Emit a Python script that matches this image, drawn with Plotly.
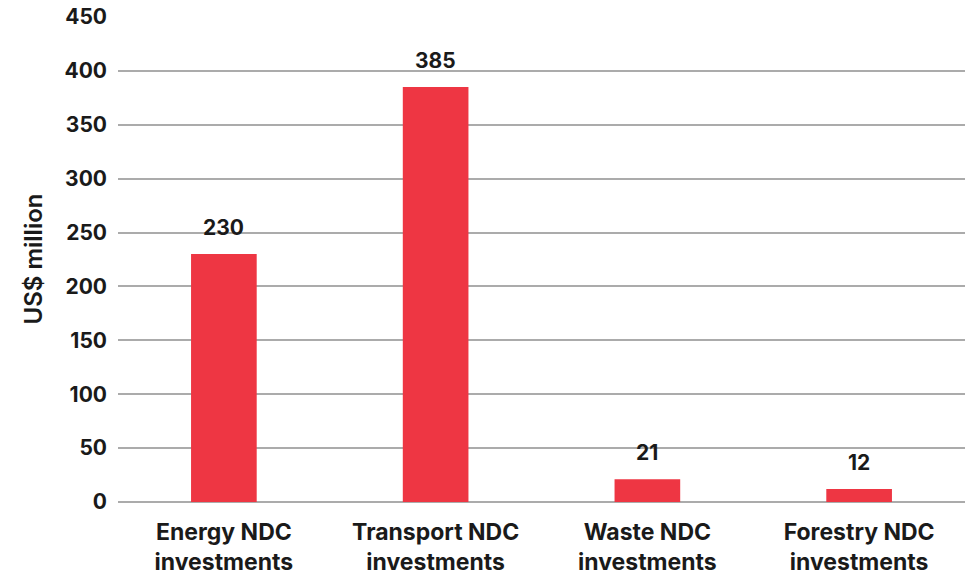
import plotly.graph_objects as go

categories = ["Energy NDC<br>investments", "Transport NDC<br>investments",
              "Waste NDC<br>investments", "Forestry NDC<br>investments"]
values = [230, 385, 21, 12]
y_ticks = [0, 50, 100, 150, 200, 250, 300, 350, 400, 450]

FONT = "Inter, Lato, sans-serif"
TXT = "#1a1a1a"

fig = go.Figure()
fig.add_trace(go.Bar(x=categories, y=values, marker=dict(color="#EE3643", line=dict(width=0)),
                     width=0.31, hoverinfo="skip"))

for c, v in zip(categories, values):
    fig.add_annotation(x=c, y=v, text="<b>%d</b>" % v, showarrow=False,
                       yanchor="bottom", yshift=12,
                       font=dict(family=FONT, size=21, color=TXT))

fig.add_annotation(xref="paper", yref="paper", x=(33 - 118) / 847, y=0.5,
                   text="US$ million", textangle=-90, showarrow=False,
                   xanchor="center", yanchor="middle",
                   font=dict(family=FONT, size=24, color=TXT, weight=600))

fig.update_layout(
    width=965, height=578,
    margin=dict(l=118, r=0, t=17, b=76),
    paper_bgcolor="white", plot_bgcolor="white",
    showlegend=False,
    font=dict(family=FONT, size=20, color=TXT),
    xaxis=dict(showgrid=False, showline=False, ticks="", ticklabelstandoff=14, automargin=False,
               tickfont=dict(family=FONT, size=23, color=TXT, weight="bold")),
    yaxis=dict(range=[0, 450], tickvals=y_ticks, showgrid=True, gridcolor="#ABABAB", gridwidth=2,
               zeroline=True, zerolinecolor="#ABABAB", zerolinewidth=2, automargin=False,
               showline=False, ticks="", ticklabelstandoff=10,
               tickfont=dict(family=FONT, size=21, color=TXT, weight="bold")),
)

fig.write_html("out.html", config={"displayModeBar": False},
               post_script="document.body.style.margin='0';")
